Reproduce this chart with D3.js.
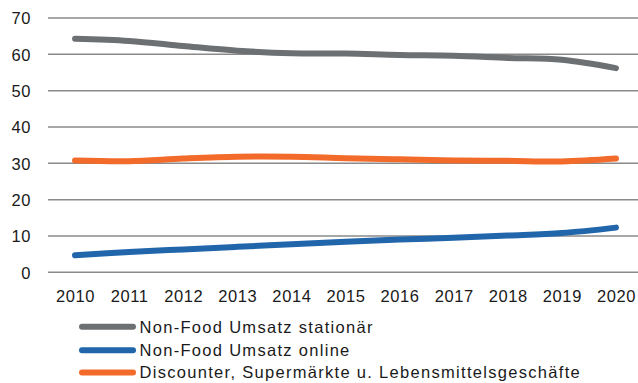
<!DOCTYPE html>
<html>
<head>
<meta charset="utf-8">
<script src="https://cdn.jsdelivr.net/npm/d3@7"></script>
<style>
  html, body { margin: 0; padding: 0; background: #fff; }
  svg { display: block; font-family: "Liberation Sans", Arial, sans-serif; }
</style>
</head>
<body>
<svg id="chart" width="638" height="383"></svg>
<script>
// Years on the category axis
const years = ["2010","2011","2012","2013","2014","2015","2016","2017","2018","2019","2020"];

// Share of sales per channel (percent)
const stationaer = [64.3, 63.7, 62.3, 61.0, 60.3, 60.2, 59.8, 59.6, 59.0, 58.5, 56.2];
const online     = [4.7, 5.6, 6.3, 7.0, 7.7, 8.4, 9.0, 9.5, 10.1, 10.8, 12.3];
const discounter = [30.8, 30.6, 31.3, 31.8, 31.8, 31.4, 31.1, 30.8, 30.7, 30.5, 31.3];

const yTicks = [0, 10, 20, 30, 40, 50, 60, 70];

const seriesNames = [
  "Non-Food Umsatz stationär",
  "Non-Food Umsatz online",
  "Discounter, Supermärkte u. Lebensmittelsgeschäfte"
];
const seriesColors = ["#6d7073", "#2166ab", "#f26b2b"];
const seriesValues = [stationaer, online, discounter];

const svg = d3.select("#chart");

const plot = { left: 48, right: 643, top: 18, bottom: 272.3 };

const x = d3.scalePoint().domain(years).range([plot.left, plot.right]).padding(0.5);
const y = d3.scaleLinear().domain([0, 70]).range([plot.bottom, plot.top]);

// Horizontal gridlines
svg.append("g")
  .selectAll("line")
  .data(yTicks)
  .join("line")
  .attr("x1", plot.left)
  .attr("x2", 638)
  .attr("y1", d => y(d))
  .attr("y2", d => y(d))
  .attr("stroke", "#8a8a8a")
  .attr("stroke-width", 1.5);

const styleTicks = g => g.selectAll("text")
  .attr("font-size", 16.5)
  .attr("letter-spacing", "0.6px")
  .attr("font-family", "Liberation Sans, Arial, sans-serif")
  .attr("fill", "#1a1a1a");

// Y axis labels
const yAxis = d3.axisLeft(y).tickValues(yTicks).tickSize(0).tickPadding(0);
svg.append("g")
  .attr("transform", `translate(31,0)`)
  .call(yAxis)
  .call(g => g.select(".domain").remove())
  .call(styleTicks)
  .call(g => g.selectAll("text").attr("dy", "0.35em"));

// X axis labels
const xAxis = d3.axisBottom(x).tickSize(0).tickPadding(0);
svg.append("g")
  .attr("transform", `translate(0,${plot.bottom + 17.5})`)
  .call(xAxis)
  .call(g => g.select(".domain").remove())
  .call(styleTicks)
  .call(g => g.selectAll("text").attr("dy", "0.71em"));

// Smoothed lines
const line = d3.line()
  .x((d, i) => x(years[i]))
  .y(d => y(d))
  .curve(d3.curveCatmullRom.alpha(0.5));

svg.append("g")
  .selectAll("path")
  .data(seriesValues)
  .join("path")
  .attr("d", d => line(d))
  .attr("fill", "none")
  .attr("stroke", (d, i) => seriesColors[i])
  .attr("stroke-width", 6)
  .attr("stroke-linecap", "round")
  .attr("stroke-linejoin", "round");

// Legend
const legend = svg.append("g");
const legendY = [326.7, 350.2, 372.5];
const items = legend.selectAll("g")
  .data(seriesNames)
  .join("g")
  .attr("transform", (d, i) => `translate(0,${legendY[i]})`);

items.append("line")
  .attr("x1", 82)
  .attr("x2", 133)
  .attr("stroke", (d, i) => seriesColors[i])
  .attr("stroke-width", 6)
  .attr("stroke-linecap", "round");

items.append("text")
  .attr("x", 139.5)
  .attr("dy", "0.36em")
  .attr("font-size", 16.5)
  .attr("letter-spacing", "1.3px")
  .attr("fill", "#1a1a1a")
  .text(d => d);
</script>
</body>
</html>
